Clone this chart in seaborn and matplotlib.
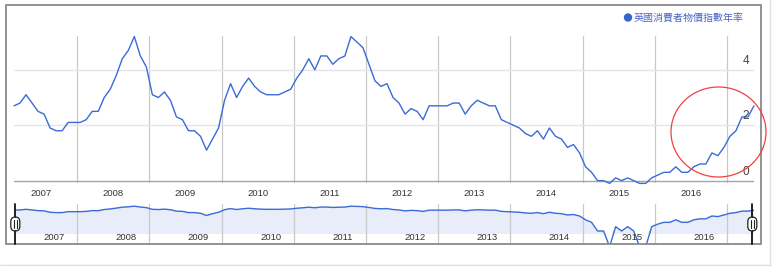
import numpy as np
import pandas as pd
import matplotlib
matplotlib.use("Agg")
import matplotlib.pyplot as plt
import matplotlib.transforms as mtransforms
from matplotlib.patches import Rectangle, Ellipse, FancyBboxPatch
from matplotlib.lines import Line2D
import seaborn as sns

# ---------------- data (UK CPI, annual rate, %) ----------------
cpi_2007 = [2.7, 2.8, 3.1, 2.8, 2.5, 2.4, 1.9, 1.8, 1.8, 2.1, 2.1, 2.1]
cpi_2008 = [2.2, 2.5, 2.5, 3.0, 3.3, 3.8, 4.4, 4.7, 5.2, 4.5, 4.1, 3.1]
cpi_2009 = [3.0, 3.2, 2.9, 2.3, 2.2, 1.8, 1.8, 1.6, 1.1, 1.5, 1.9, 2.9]
cpi_2010 = [3.5, 3.0, 3.4, 3.7, 3.4, 3.2, 3.1, 3.1, 3.1, 3.2, 3.3, 3.7]
cpi_2011 = [4.0, 4.4, 4.0, 4.5, 4.5, 4.2, 4.4, 4.5, 5.2, 5.0, 4.8, 4.2]
cpi_2012 = [3.6, 3.4, 3.5, 3.0, 2.8, 2.4, 2.6, 2.5, 2.2, 2.7, 2.7, 2.7]
cpi_2013 = [2.7, 2.8, 2.8, 2.4, 2.7, 2.9, 2.8, 2.7, 2.7, 2.2, 2.1, 2.0]
cpi_2014 = [1.9, 1.7, 1.6, 1.8, 1.5, 1.9, 1.6, 1.5, 1.2, 1.3, 1.0, 0.5]
cpi_2015 = [0.3, 0.0, 0.0, -0.1, 0.1, 0.0, 0.1, 0.0, -0.1, -0.1, 0.1, 0.2]
cpi_2016 = [0.3, 0.3, 0.5, 0.3, 0.3, 0.5, 0.6, 0.6, 1.0, 0.9, 1.2, 1.6]
cpi_2017 = [1.8, 2.3, 2.3, 2.7]

year_labels = ["2007", "2008", "2009", "2010", "2011", "2012", "2013", "2014", "2015", "2016"]
y_ticks = [0, 2, 4]
series_name = "英國消費者物價指數年率"

cpi = np.array(cpi_2007 + cpi_2008 + cpi_2009 + cpi_2010 + cpi_2011 + cpi_2012
               + cpi_2013 + cpi_2014 + cpi_2015 + cpi_2016 + cpi_2017)
months = pd.period_range("2007-01", periods=len(cpi), freq="M")
# each value is plotted at its release date (middle of the following month)
xpos = np.array([p.year + (p.month + 0.5) / 12.0 for p in months])
df = pd.DataFrame({"x": xpos, "cpi": cpi})
df["nav"] = np.clip(df["cpi"] + 0.1, 0.008, None)

# ---------------- style ----------------
sns.set_style("white")
plt.rcParams["font.family"] = ["Liberation Sans", "DejaVu Sans"]

W, H = 772, 266
fig = plt.figure(figsize=(W / 100, H / 100), dpi=100)


def fx(px):
    return px / W


def fy(py):
    return 1 - py / H


LINE = "#3a6bd6"
GRID_V = "#c9c9c9"
GRID_H = "#e4e4ec"
TXT = "#333333"

x0, x1 = xpos[0], xpos[-1]

# ---------------- main chart ----------------
ax = fig.add_axes([fx(14), fy(183.4), fx(754) - fx(14), (183.4 - 36) / H])
ax.set_xlim(x0, x1)
ax.set_ylim(-0.1, 5.22)
for s in ax.spines.values():
    s.set_visible(False)
ax.set_xticks([])
ax.set_yticks([])
ax.patch.set_alpha(0)

for yr in range(2008, 2018):
    ax.axvline(yr, color=GRID_V, lw=0.9, zorder=1)
for v in y_ticks[1:]:
    ax.axhline(v, color=GRID_H, lw=1.0, zorder=1)
ax.axhline(0, color="#a5a5a5", lw=1.0, zorder=1)

sns.lineplot(data=df, x="x", y="cpi", ax=ax, color=LINE, lw=1.0,
             estimator=None, clip_on=False, zorder=3, legend=False)
ax.set_xlabel("")
ax.set_ylabel("")

for v in y_ticks:
    ax.annotate(str(v), xy=(1, v), xycoords=("axes fraction", "data"),
                xytext=(-8, 3), textcoords="offset pixels",
                ha="center", va="bottom", fontsize=8.5, color="#444444")

trans_main = mtransforms.blended_transform_factory(ax.transData, fig.transFigure)
for lab in year_labels:
    ax.text(int(lab) + 0.5, fy(193.5), lab, transform=trans_main,
            ha="center", va="center", fontsize=6.8, color=TXT, clip_on=False)

# ---------------- navigator ----------------
nav = fig.add_axes([fx(14), fy(244), fx(754) - fx(14), 40 / H])
nav.set_yscale("log")
nav.set_xlim(x0, x1)
nav.set_ylim(0.0125, 7.5)
for s in nav.spines.values():
    s.set_visible(False)
nav.set_xticks([])
nav.set_yticks([])
nav.minorticks_off()
nav.set_yticks([], minor=True)
base = 0.062
nav.fill_between(df["x"], df["nav"], base, where=df["nav"] > base,
                 interpolate=True, color="#e9edf9", lw=0, zorder=1)
for yr in range(2008, 2018):
    nav.axvline(yr, color=GRID_V, lw=0.9, zorder=2)
sns.lineplot(data=df, x="x", y="nav", ax=nav, color=LINE, lw=1.0,
             estimator=None, zorder=3, legend=False)
nav.set_xlabel("")
nav.set_ylabel("")

trans_nav = mtransforms.blended_transform_factory(nav.transData, fig.transFigure)
for lab in year_labels:
    nav.text(int(lab) + 0.68, fy(237), lab, transform=trans_nav,
             ha="center", va="center", fontsize=6.8, color=TXT, clip_on=False)

# handles
for hx in (15.3, 752.3):
    fig.add_artist(Line2D([fx(hx), fx(hx)], [fy(204), fy(244)], color="#111111", lw=1.3))
    fig.add_artist(FancyBboxPatch((fx(hx - 4.5), fy(231)), fx(9), 14 / H,
                                  boxstyle="round,pad=0,rounding_size=0.006",
                                  facecolor="white", edgecolor="#222222", lw=0.9,
                                  mutation_aspect=W / H, zorder=5))
    for dx in (-1.4, 1.4):
        fig.add_artist(Line2D([fx(hx + dx), fx(hx + dx)], [fy(220), fy(228)],
                              color="#222222", lw=0.8, zorder=6))

# ---------------- frame & decorations ----------------
fig.add_artist(Rectangle((fx(6), fy(244)), fx(761) - fx(6), (244 - 5) / H,
                         fill=False, edgecolor="#8a8a8a", lw=1.3))
fig.add_artist(Line2D([0, 1], [fy(265), fy(265)], color="#dddddd", lw=1.0))
fig.add_artist(Line2D([fx(770), fx(770)], [fy(0), fy(266)], color="#e2e2e2", lw=1.0))

# legend
fig.add_artist(Ellipse((fx(628), fy(17.5)), 7 / W, 7 / H, color="#3366cc"))
fig.text(fx(634), fy(17.5), series_name, ha="left", va="center", fontsize=7.2,
         color="#4a62c6", family=["Noto Sans CJK TC", "DejaVu Sans"])

# red highlight circle
fig.add_artist(Ellipse((fx(718.5), fy(132)), 95 / W, 90 / H, fill=False,
                       edgecolor="#f04040", lw=0.9, zorder=10))

fig.savefig("out.png", dpi=100)
